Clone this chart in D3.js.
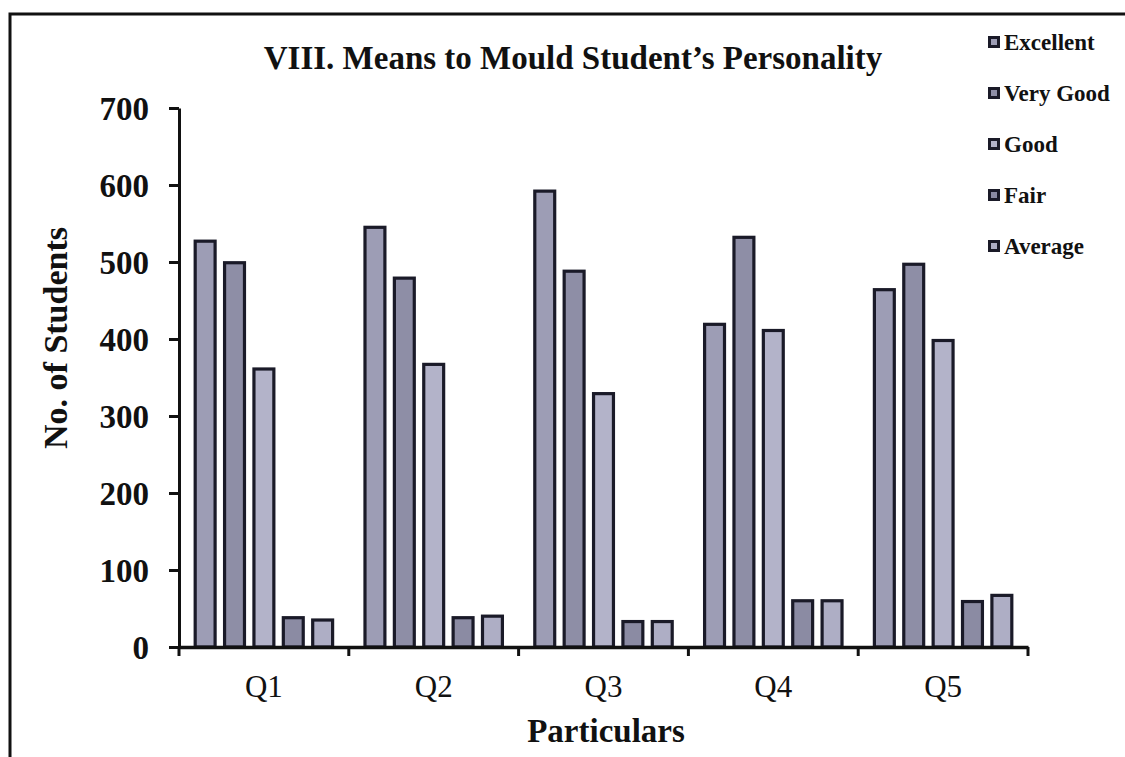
<!DOCTYPE html>
<html><head><meta charset="utf-8">
<script src="https://cdn.jsdelivr.net/npm/d3@7"></script>
<style>body{margin:0;background:#fff}svg{display:block}</style>
</head><body>
<svg id="c" width="1125" height="757"></svg>
<script>
const categories = ["Q1","Q2","Q3","Q4","Q5"];
const series = ["Excellent","Very Good","Good","Fair","Average"];
const excellent = [529, 547, 594, 421, 466];
const veryGood  = [501, 481, 490, 534, 499];
const good      = [363, 369, 331, 413, 400];
const fair      = [40, 40, 35, 62, 61];
const average   = [37, 42, 35, 62, 69];
const yTicks = [0,100,200,300,400,500,600,700];
const colors = ["#9d9db5","#8e8ea6","#b3b3c9","#8b8ba3","#aeaec5"];

const values = [excellent, veryGood, good, fair, average];
const svg = d3.select("#c");
const font = "'Liberation Serif','Times New Roman',serif";

// frame
svg.append("path").attr("d","M10,757 L10,14 L1125,14").attr("fill","none").attr("stroke","#111").attr("stroke-width",3);

const x0 = d3.scaleBand().domain(categories).range([179,1028]).padding(0);
const x1 = d3.scaleBand().domain(series).range([0,x0.bandwidth()]).paddingInner(0.22).paddingOuter(0.5);
const y = d3.scaleLinear().domain([0,700]).range([647,108]);

const g = svg.append("g");
categories.forEach((c,ci)=>{
  series.forEach((s,si)=>{
    const v = values[si][ci];
    g.append("rect")
      .attr("x", x0(c)+x1(s)+1.5).attr("width", x1.bandwidth()-3)
      .attr("y", y(v)+1.5).attr("height", y(0)-y(v)-1.5)
      .attr("fill", colors[si]).attr("stroke","#1a1a28").attr("stroke-width",3.2);
  });
});

// y axis
const ya = svg.append("g").attr("transform","translate(179,0)")
  .call(d3.axisLeft(y).tickValues(yTicks).tickSize(10).tickSizeOuter(0).tickPadding(20));
ya.select(".domain").attr("stroke","#111").attr("stroke-width",3);
ya.selectAll(".tick line").attr("stroke","#111").attr("stroke-width",3);
ya.selectAll("text").attr("font-family",font).attr("font-weight","bold").attr("font-size",33).attr("fill","#111").attr("dy","0.34em");

// x axis
const xa = svg.append("g").attr("transform","translate(0,647)")
  .call(d3.axisBottom(x0).tickSize(0).tickPadding(0));
xa.select(".domain").attr("stroke","#111").attr("stroke-width",3.5);
xa.selectAll("text").attr("font-family",font).attr("font-size",31).attr("fill","#111").attr("y",50).attr("dy",0);
const bounds = categories.map(c=>x0(c)).concat([x0.range()[1]]);
xa.selectAll(".bnd").data(bounds).enter().append("line").attr("class","bnd")
  .attr("x1",d=>d).attr("x2",d=>d).attr("y1",0).attr("y2",9).attr("stroke","#111").attr("stroke-width",3);

// titles
svg.append("text").attr("x",573).attr("y",69).attr("text-anchor","middle")
  .attr("font-family",font).attr("font-weight","bold").attr("font-size",33).attr("fill","#111")
  .text("VIII. Means to Mould Student\u2019s Personality");
svg.append("text").attr("transform","translate(67,338) rotate(-90)").attr("text-anchor","middle")
  .attr("font-family",font).attr("font-weight","bold").attr("font-size",34).attr("fill","#111")
  .text("No. of Students");
svg.append("text").attr("x",606).attr("y",742).attr("text-anchor","middle")
  .attr("font-family",font).attr("font-weight","bold").attr("font-size",33).attr("fill","#111")
  .text("Particulars");

// legend
const lg = svg.append("g");
series.forEach((s,i)=>{
  const cy = 42 + i*51;
  lg.append("rect").attr("x",988).attr("y",cy-6).attr("width",12).attr("height",12).attr("fill","#1a1a28");
  lg.append("rect").attr("x",991).attr("y",cy-3).attr("width",6).attr("height",6).attr("fill",colors[i]);
  lg.append("text").attr("x",1004).attr("y",cy).attr("dy","0.35em")
    .attr("font-family",font).attr("font-weight","bold").attr("font-size",23).attr("fill","#111").text(s);
});
</script>
</body></html>
